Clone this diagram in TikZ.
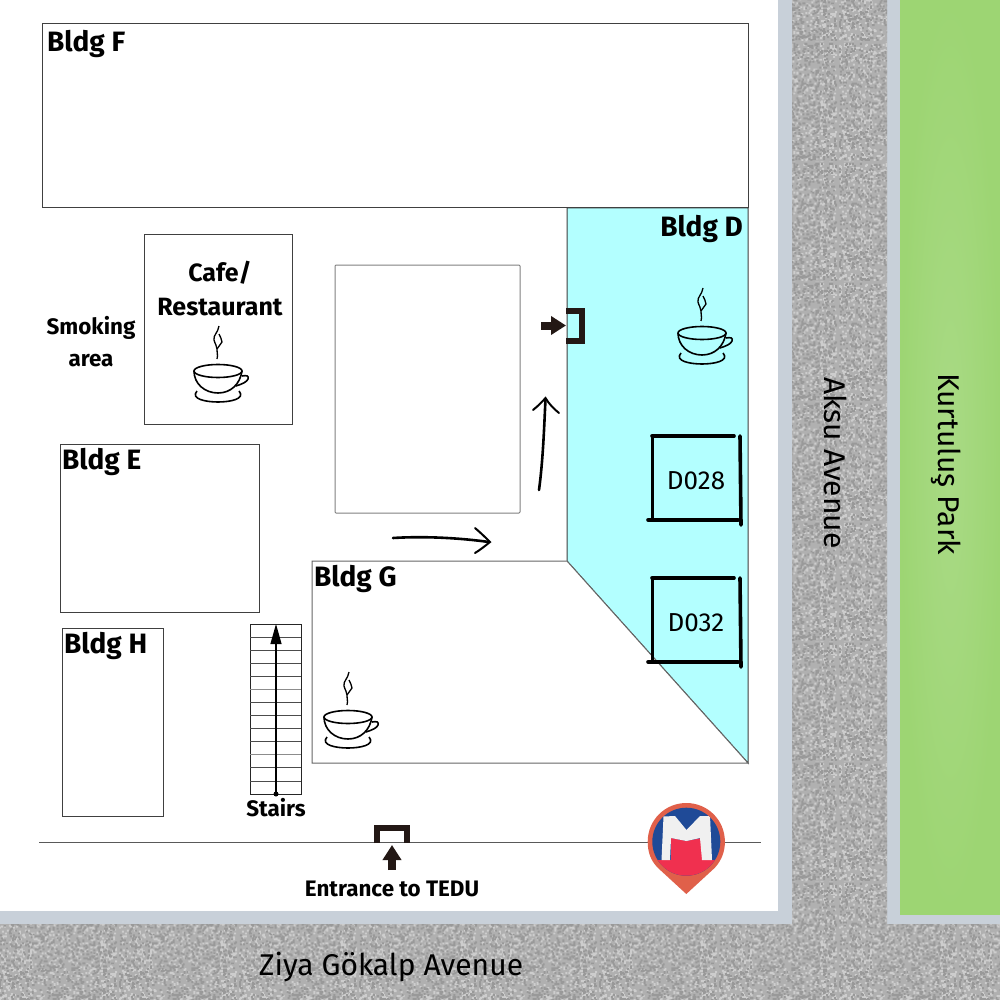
\documentclass[tikz,border=0pt]{standalone}
\usepackage{xcolor}
\usepackage{fontspec}
\setmainfont{Fira Sans}
\usetikzlibrary{arrows.meta,patterns}
\definecolor{walkgray}{HTML}{C8D0D9}
\definecolor{roadgray}{HTML}{B0B0B0}
\definecolor{grainlight}{HTML}{CDCDCD}
\definecolor{graindark}{HTML}{999999}
\definecolor{parkgreen}{HTML}{9DD573}
\definecolor{parklight}{HTML}{A9DA85}
\definecolor{roomcyan}{HTML}{B3FFFF}
\definecolor{doordark}{HTML}{231815}
\definecolor{pinorange}{HTML}{E0604A}
\definecolor{pinblue}{HTML}{1F4A97}
\definecolor{pinred}{HTML}{F0304F}
\pgfmathsetseed{7}
\newcommand{\grainpath}{%
  \foreach \i in {1,...,1100} {
    \pgfmathsetmacro{\px}{random(0,117)}
    \pgfmathsetmacro{\py}{random(0,117)}
    \pgfpathrectangle{\pgfpoint{\px pt}{\py pt}}{\pgfpoint{2pt}{2pt}}
  }
  \pgfusepath{fill}
}
\pgfdeclarepatternformonly{roadgrainA}{\pgfpointorigin}{\pgfpoint{120pt}{120pt}}{\pgfpoint{120pt}{120pt}}{\grainpath}
\pgfdeclarepatternformonly{roadgrainB}{\pgfpointorigin}{\pgfpoint{120pt}{120pt}}{\pgfpoint{120pt}{120pt}}{\grainpath}
\tikzset{
bldgbox/.style={rectangle, draw=black!75, fill=white, line width=1pt, inner sep=0pt},
bldglabel/.style={inner sep=0pt, font=\fontsize{28}{32}\selectfont\bfseries},
smalllabel/.style={inner sep=0pt, align=center, font=\fontsize{22.4}{32}\selectfont\bfseries},
roadlabel/.style={inner sep=0pt, font=\fontsize{30}{34}\selectfont},
roomlabel/.style={inner sep=0pt, font=\fontsize{26}{30}\selectfont},
sketchline/.style={black, line width=2.6pt, line cap=round},
roomline/.style={black, line width=3.6pt, line cap=round},
doorline/.style={doordark, line width=6pt},
doorarrow/.style={doordark, line width=8pt, -{Triangle[length=15pt,width=18pt]}},
pics/coffeecup/.style={code={
  \draw[line width=1.6pt] (0,0) ellipse [x radius=24, y radius=6.5];
  \draw[line width=1.6pt] (-24,0) .. controls (-24,13) and (-13,22) .. (0,22) .. controls (13,22) and (22,13) .. (24,0);
  \draw[line width=1.6pt] (24,5) .. controls (29,4) and (31,5) .. (30,8) .. controls (29,11) and (24,13) .. (18,15);
  \draw[line width=1.6pt] (-21,20) .. controls (-28,28) and (-12,31) .. (0,31) .. controls (12,31) and (28,28) .. (21,20);
  \draw[line width=1.3pt] (1,-45) .. controls (0,-38) and (-5,-36) .. (-4,-31) .. controls (-3,-27) and (-1,-25) .. (-1,-22) .. controls (-1,-18) and (0,-16) .. (-1,-12);
  \draw[line width=1.3pt] (1,-37) .. controls (2,-34) and (4,-32) .. (4,-29) .. controls (3,-26) and (0,-25) .. (-1,-22);
}},
}
\begin{document}
\begin{tikzpicture}[x=1pt,y=-1pt]
  \useasboundingbox (0,0) rectangle (1000,1000);
  % ground
  \fill[walkgray] (0,0) rectangle (1000,1000);
  \fill[white] (0,0) rectangle (778,911);
  \shade[inner color=parklight, outer color=parkgreen] (900,0) rectangle (1000,914);
  % roads
  \fill[roadgray] (792,0) rectangle (887,924) (0,924) rectangle (1000,1000);
  \fill[pattern=roadgrainA, pattern color=grainlight] (792,0) rectangle (887,924) (0,924) rectangle (1000,1000);
  \fill[pattern=roadgrainB, pattern color=graindark] (792,0) rectangle (887,924) (0,924) rectangle (1000,1000);
  % buildings
  \fill[roomcyan] (567,208) -- (748,208) -- (748,763) -- (567,561) -- cycle;
  \draw[black!75, line width=1pt] (567,208) -- (748,208) -- (748,763) -- (567,561) -- cycle;
  \fill[white] (312,561) -- (567,561) -- (748,763) -- (312,763) -- cycle;
  \draw[black!60, line width=1pt] (312,561) -- (567,561) -- (748,763) -- (312,763) -- cycle;
  \node[bldgbox, minimum width=706pt, minimum height=184pt] at (395,116) (bldgF) {};
  \node[bldgbox, minimum width=148pt, minimum height=189pt] at (218,329.5) (cafe) {};
  \node[bldgbox, draw=black!50, rounded corners=1pt, minimum width=185pt, minimum height=248pt] at (427.5,389) (court) {};
  \node[bldgbox, minimum width=199pt, minimum height=168pt] at (159.5,528) (bldgE) {};
  \node[bldgbox, minimum width=101pt, minimum height=188pt] at (112.5,722) (bldgH) {};
  \node[bldglabel, anchor=west] at (47,44) (labelF) {Bldg F};
  \node[bldglabel, anchor=east] at (743,229) (labelD) {Bldg D};
  \node[bldglabel, anchor=west] at (62,462) (labelE) {Bldg E};
  \node[bldglabel, anchor=west] at (64,646) (labelH) {Bldg H};
  \node[bldglabel, anchor=west] at (314,579) (labelG) {Bldg G};
  \node[bldglabel, font=\fontsize{25}{34}\selectfont\bfseries, align=center] at (220,289) (labelcafe) {Cafe/\\Restaurant};
  \node[smalllabel] at (91,342) (labelsmoke) {Smoking\\area};
  \node[smalllabel] at (276,808) (labelstairs) {Stairs};
  \node[smalllabel] at (392,889) (labelentrance) {Entrance to TEDU};
  \node[roadlabel, rotate=-90] at (836,463) (aksu) {Aksu Avenue};
  \node[roadlabel, rotate=-90] at (946,464) (park) {Kurtuluş Park};
  \node[roadlabel] at (391,967) (ziya) {Ziya Gökalp Avenue};
  % cups
  \pic at (218,371) {coffeecup};
  \pic at (702,333) {coffeecup};
  \pic at (348,717) {coffeecup};
  % rooms
  \foreach \dy/\room in {0/D028,142/D032} {
    \begin{scope}[yshift=-\dy pt]
      \draw[roomline] (652,436) -- (734,436);
      \draw[roomline] (652.5,437) -- (652.5,520);
      \draw[roomline] (648,520) -- (738,520);
      \draw[roomline] (740,436) -- (741,525);
      \node[roomlabel] at (696,481) (room\room) {\room};
    \end{scope}
  }
  % stairs
  \node[rectangle, draw=black!85, fill=white, line width=1pt, inner sep=0pt, minimum width=51pt, minimum height=170pt] at (275.5,709) (stairs) {};
  \foreach \s in {1,2,3,4,6,7,8,9,11,12} {
    \draw[black!70, line width=.8pt] (250,624+13.08*\s) -- (301,624+13.08*\s);
  }
  \foreach \s in {5,10} {
    \draw[black!45, line width=1.2pt] (250,624+13.08*\s) -- (301,624+13.08*\s);
  }
  \coordinate (stairsfoot) at (276,794);
  \coordinate (stairstop) at (276,624);
  \fill (stairsfoot) circle [radius=2.5];
  \draw[black, line width=1.2pt, -{Triangle[length=20pt,width=11pt]}] (stairsfoot) -- (stairstop);
  % street line
  \coordinate (streetW) at (39,842);
  \coordinate (streetE) at (761,842);
  \draw[black!65, line width=1pt] (streetW) -- (streetE);
  % doors
  \draw[doorline] (566,311) -- (581.5,311) -- (581.5,340.5) -- (566,340.5);
  \coordinate (doorDa) at (541,325.5);
  \coordinate (doorDb) at (566,325.5);
  \draw[doorarrow] (doorDa) -- (doorDb);
  \draw[doorline] (377,843) -- (377,828) -- (407,828) -- (407,843);
  \coordinate (doorTa) at (392,870);
  \coordinate (doorTb) at (392,845);
  \draw[doorarrow] (doorTa) -- (doorTb);
  % sketched arrows
  \draw[sketchline] (393,538) .. controls (425,536) and (460,538) .. (489,542);
  \draw[sketchline, line width=2pt] (475,528) .. controls (482,534) and (486,538) .. (490,542) .. controls (485,546) and (480,550) .. (475,553);
  \draw[sketchline] (539,490) .. controls (543,460) and (544,430) .. (545.5,399);
  \draw[sketchline, line width=2pt] (533,410) .. controls (538,406) and (542,402) .. (545.5,398) .. controls (549,404) and (554,409) .. (559,413);
  % metro pin
  \fill[pinorange] (686.3,894) -- (658,868) .. controls (650,860) and (647.7,851) .. (647.7,841.7) .. controls (647.7,820) and (665,803) .. (686.3,803) .. controls (707.6,803) and (724.9,820) .. (724.9,841.7) .. controls (724.9,851) and (722,860) .. (714.6,868) -- cycle;
  \begin{scope}
    \clip (686.3,841.7) circle [radius=34];
    \fill[pinblue] (650,805) rectangle (722,880);
    \fill[pinred] (650,860) rectangle (722,880);
    \fill[pinred] (671,838) -- (686.5,841) -- (702,838) -- (702,860) -- (671,860) -- cycle;
    \fill[white!94!black] (661.5,860) -- (663.5,816.5) -- (675,816) -- (686.5,830) -- (700,816) -- (710,816) -- (712,860) -- (702,860) -- (700,838) -- (686.5,841) -- (671,838) -- (670,860) -- cycle;
  \end{scope}
\end{tikzpicture}
\end{document}
